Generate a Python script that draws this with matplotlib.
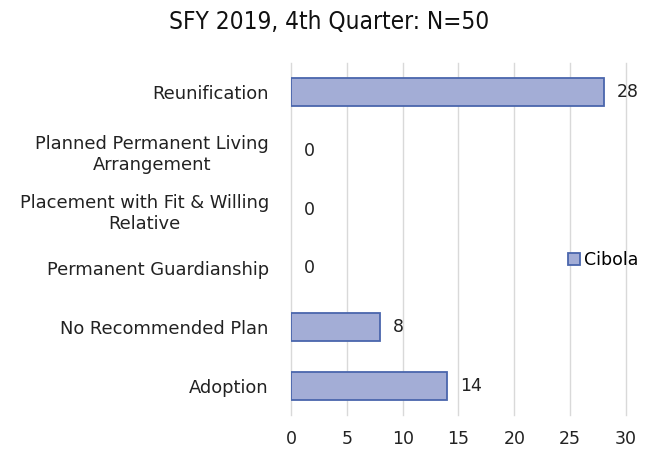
import numpy as np
from matplotlib import pyplot as plt

categories = ["Adoption", "No Recommended Plan", "Permanent Guardianship",
              "Placement with Fit & Willing\nRelative",
              "Planned Permanent Living\nArrangement", "Reunification"]
values = [14, 8, 0, 0, 0, 28]
xticks = [0, 5, 10, 15, 20, 25, 30]

plt.rcParams["font.family"] = ["DejaVu Sans"]
plt.rcParams["font.size"] = 12

fig = plt.figure(figsize=(6.59, 4.53), dpi=100)
ax = fig.add_axes([0.4416, 0.084, 0.5083, 0.777])

y = np.arange(len(categories))
lw = [1.3 if v > 0 else 0 for v in values]
ax.barh(y, values, height=0.48, color="#A3ADD6", edgecolor="#4A66AC",
        linewidth=lw, label="Cibola", zorder=3)
for yi, v in zip(y, values):
    ax.text(v + 1.15, yi, str(v), va="center", ha="left", fontsize=12.5, color="#222222")

ax.set_xlim(0, 30)
ax.set_ylim(-0.5, len(categories) - 0.5)
ax.set_xticks(xticks)
ax.set_yticks(y)
ax.set_yticklabels(categories, ha="right", multialignment="center",
                   fontsize=12.9, color="#222222", linespacing=1.25)
ax.tick_params(axis="y", length=0, pad=16)
ax.tick_params(axis="x", length=0, pad=11, labelsize=12.5, colors="#222222")
ax.grid(axis="x", color="#D9D9D9", linewidth=1, zorder=0)
for gl in ax.get_xgridlines():
    gl.set_clip_on(False)
for s in ax.spines.values():
    s.set_visible(False)

fig.text(0.5, 0.951, "SFY 2019, 4th Quarter: N=50", ha="center", va="center",
         fontsize=17.5, family="DejaVu Sans", fontstretch="condensed",
         color="#111111")

ax.legend(loc="center left", bbox_to_anchor=(0.78, 0.44), frameon=False,
          handlelength=0.7, handleheight=0.7, handletextpad=0.25, fontsize=12.5)

fig.savefig("out.png")
